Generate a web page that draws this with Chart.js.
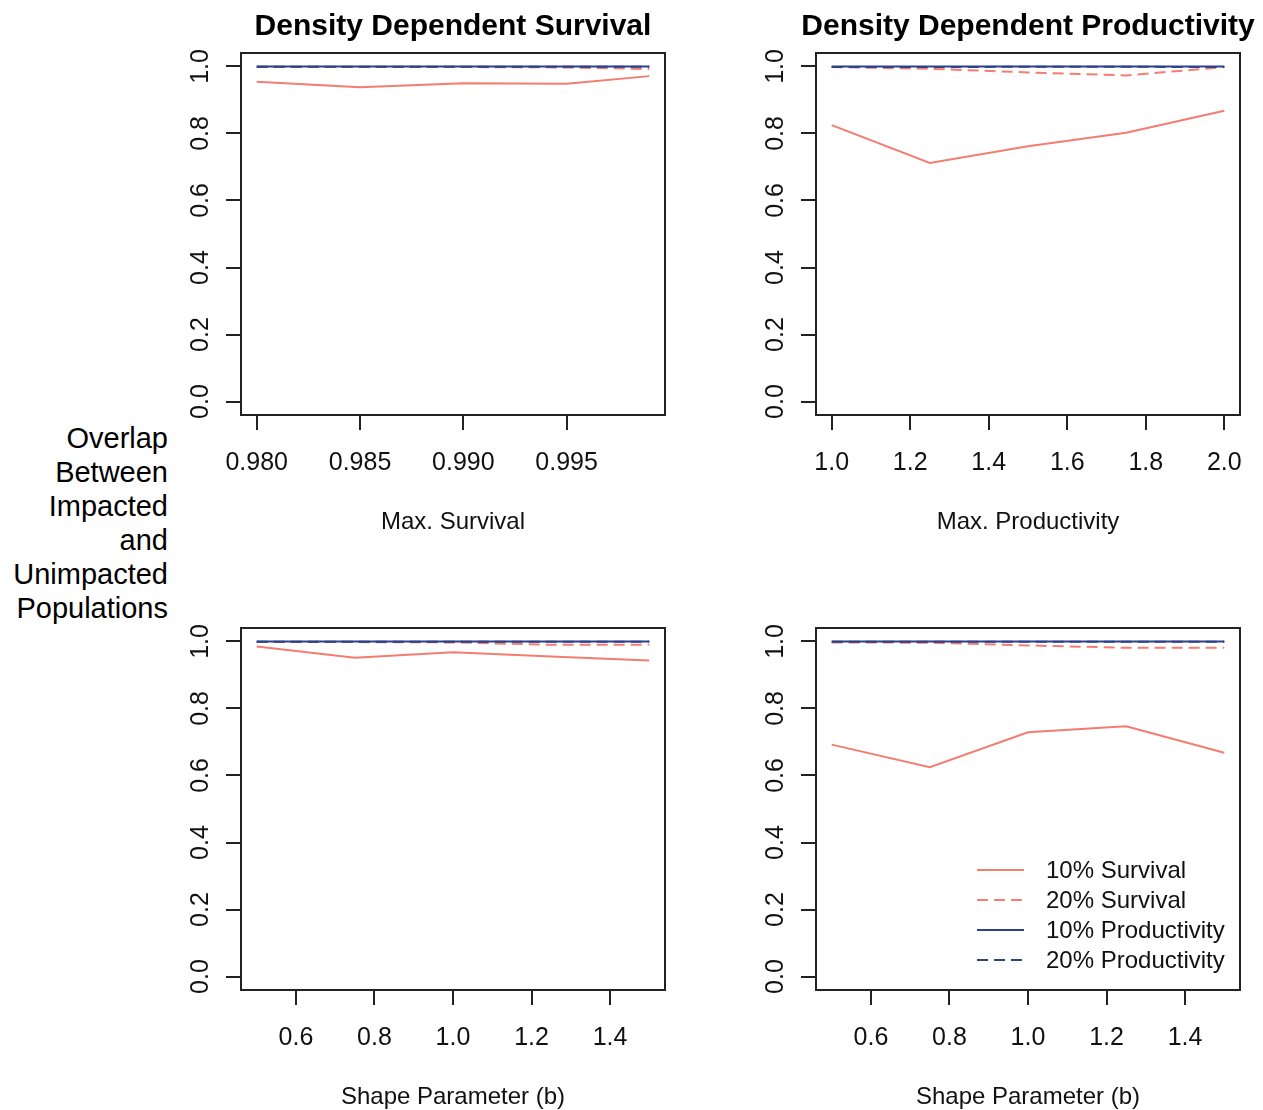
<!DOCTYPE html>
<html>
<head>
<meta charset="utf-8">
<script src="https://cdn.jsdelivr.net/npm/chart.js@4.4.1/dist/chart.umd.min.js"></script>
<style>
  html, body { margin: 0; padding: 0; background: #fff; overflow: hidden; }
  body { width: 1263px; height: 1110px; position: relative; font-family: "Liberation Sans", Arial, sans-serif; }
  canvas { position: absolute; }
  #c1 { left: 175px; top: 0; }
  #c2 { left: 750px; top: 0; }
  #c3 { left: 175px; top: 575px; }
  #c4 { left: 750px; top: 575px; }
  #ylab { position: absolute; left: 0; top: 421px; width: 168px; text-align: right;
          font-size: 29px; line-height: 34px; color: #000; }
</style>
</head>
<body>
<div id="ylab">Overlap<br>Between<br>Impacted<br>and<br>Unimpacted<br>Populations</div>
<canvas id="c1" width="556" height="545"></canvas>
<canvas id="c2" width="556" height="545"></canvas>
<canvas id="c3" width="556" height="539"></canvas>
<canvas id="c4" width="556" height="539"></canvas>
<script>
// x values for each panel
const maxSurvX = [0.980, 0.985, 0.990, 0.995, 0.999];
const maxProdX = [1.0, 1.25, 1.5, 1.75, 2.0];
const shapeX = [0.5, 0.75, 1.0, 1.25, 1.5];

// tick labels
const maxSurvTicks = [0.980, 0.985, 0.990, 0.995];
const maxSurvLabels = ['0.980', '0.985', '0.990', '0.995'];
const maxProdTicks = [1.0, 1.2, 1.4, 1.6, 1.8, 2.0];
const maxProdLabels = ['1.0', '1.2', '1.4', '1.6', '1.8', '2.0'];
const shapeTicks = [0.6, 0.8, 1.0, 1.2, 1.4];
const shapeLabels = ['0.6', '0.8', '1.0', '1.2', '1.4'];
const yTicks = [0, 0.2, 0.4, 0.6, 0.8, 1.0];
const yLabels = ['0.0', '0.2', '0.4', '0.6', '0.8', '1.0'];

const seriesNames = ['10% Survival', '20% Survival', '10% Productivity', '20% Productivity'];

// Density dependent survival, vs max survival
const dsMax_s10 = [0.954, 0.938, 0.950, 0.948, 0.971];
const dsMax_s20 = [0.998, 0.998, 0.998, 0.997, 0.992];
const dsMax_p10 = [1.0, 1.0, 1.0, 1.0, 1.0];
const dsMax_p20 = [0.999, 0.999, 0.999, 0.999, 0.999];

// Density dependent productivity, vs max productivity
const dpMax_s10 = [0.825, 0.712, 0.762, 0.802, 0.868];
const dpMax_s20 = [0.998, 0.993, 0.982, 0.973, 0.998];
const dpMax_p10 = [1.0, 1.0, 1.0, 1.0, 1.0];
const dpMax_p20 = [0.998, 0.998, 0.999, 0.999, 0.998];

// Density dependent survival, vs shape parameter
const dsShape_s10 = [0.985, 0.951, 0.968, 0.955, 0.943];
const dsShape_s20 = [0.998, 0.998, 0.997, 0.990, 0.990];
const dsShape_p10 = [1.0, 1.0, 1.0, 1.0, 1.0];
const dsShape_p20 = [0.999, 0.999, 0.999, 0.999, 0.999];

// Density dependent productivity, vs shape parameter
const dpShape_s10 = [0.692, 0.625, 0.729, 0.747, 0.668];
const dpShape_s20 = [0.997, 0.996, 0.988, 0.981, 0.981];
const dpShape_p10 = [1.0, 1.0, 1.0, 1.0, 1.0];
const dpShape_p20 = [0.999, 0.999, 0.999, 0.999, 0.999];

const RED = '#F47C70';
const BLUE = '#2E428C';
const DASH = [11, 6];

Chart.defaults.font.family = '"Liberation Sans", Arial, sans-serif';
Chart.defaults.color = '#000';

// R style box around the plot region
const framePlugin = {
  id: 'frame',
  afterDraw(chart) {
    const a = chart.chartArea, ctx = chart.ctx;
    ctx.save();
    ctx.strokeStyle = '#222';
    ctx.lineWidth = 2;
    ctx.strokeRect(a.left, a.top, a.right - a.left, a.bottom - a.top);
    ctx.restore();
  }
};

// legend without a box, bottom right inside the plot
const boxlessLegend = {
  id: 'boxlessLegend',
  afterDraw(chart, args, opts) {
    if (!opts.show) return;
    const a = chart.chartArea, ctx = chart.ctx;
    ctx.save();
    ctx.font = '24px "Liberation Sans", Arial, sans-serif';
    ctx.textBaseline = 'middle';
    ctx.textAlign = 'left';
    chart.data.datasets.forEach((ds, i) => {
      const y = a.bottom - 120 + i * 30;
      ctx.strokeStyle = ds.borderColor;
      ctx.lineWidth = 2;
      ctx.setLineDash(ds.borderDash || []);
      ctx.beginPath();
      ctx.moveTo(a.right - 263, y);
      ctx.lineTo(a.right - 216, y);
      ctx.stroke();
      ctx.setLineDash([]);
      ctx.fillStyle = '#111';
      ctx.fillText(ds.label, a.right - 194, y + 1);
    });
    ctx.restore();
  }
};

function pad(xs) {
  const lo = Math.min(...xs), hi = Math.max(...xs), d = (hi - lo) * 0.04;
  return [lo - d, hi + d];
}

function makePanel(id, xs, series, xTicks, xLabels, title, xTitle, topRow, legend) {
  const styles = [
    { c: RED, dash: [] }, { c: RED, dash: DASH },
    { c: BLUE, dash: [] }, { c: BLUE, dash: DASH }
  ];
  const [xmin, xmax] = pad(xs);
  new Chart(document.getElementById(id), {
    type: 'line',
    data: {
      datasets: series.map((vals, i) => ({
        label: seriesNames[i],
        data: xs.map((x, j) => ({ x: x, y: vals[j] })),
        borderColor: styles[i].c,
        borderDash: styles[i].dash,
        borderWidth: 2,
        pointRadius: 0,
        tension: 0,
        fill: false,
        order: 3 - i
      }))
    },
    options: {
      responsive: false,
      animation: false,
      events: [],
      layout: { padding: { left: 0, right: 0, top: topRow ? 0 : 53, bottom: 0 } },
      plugins: {
        legend: { display: false },
        tooltip: { enabled: false },
        title: {
          display: !!title,
          text: title || '',
          font: { size: 30, weight: 'bold' },
          color: '#000',
          padding: { top: 9, bottom: 8 }
        },
        boxlessLegend: { show: legend }
      },
      scales: {
        x: {
          type: 'linear',
          position: 'bottom',
          min: xmin,
          max: xmax,
          bounds: 'data',
          afterBuildTicks: (axis) => { axis.ticks = xTicks.map(v => ({ value: v })); },
          afterFit: (axis) => { axis.height = topRow ? 130 : 124; },
          ticks: {
            autoSkip: false,
            maxRotation: 0,
            padding: 18,
            font: { size: 25 },
            color: '#111',
            callback: (v, i) => xLabels[i]
          },
          grid: { display: true, drawOnChartArea: false, drawTicks: true, tickLength: 15, color: '#222', lineWidth: 2 },
          border: { display: false },
          title: {
            display: true,
            text: xTitle,
            font: { size: 24 },
            color: '#111',
            padding: { top: 0, bottom: topRow ? 8.6 : 2.6 }
          }
        },
        y: {
          type: 'linear',
          min: -0.04,
          max: 1.04,
          bounds: 'data',
          afterBuildTicks: (axis) => { axis.ticks = yTicks.map(v => ({ value: v })); },
          afterFit: (axis) => { axis.width = 66; },
          ticks: {
            autoSkip: false,
            minRotation: 90,
            maxRotation: 90,
            crossAlign: 'center',
            padding: 8,
            font: { size: 25 },
            color: '#111',
            callback: (v, i) => yLabels[i]
          },
          grid: { display: true, drawOnChartArea: false, drawTicks: true, tickLength: 15, color: '#222', lineWidth: 2 },
          border: { display: false }
        },
        // empty right margin so the title centres over the plot box
        yRight: {
          type: 'linear',
          position: 'right',
          display: true,
          afterFit: (axis) => { axis.width = 66; },
          ticks: { display: false },
          grid: { display: false },
          border: { display: false }
        }
      }
    },
    plugins: [framePlugin, boxlessLegend]
  });
}

makePanel('c1', maxSurvX, [dsMax_s10, dsMax_s20, dsMax_p10, dsMax_p20],
  maxSurvTicks, maxSurvLabels, 'Density Dependent Survival', 'Max. Survival', true, false);
makePanel('c2', maxProdX, [dpMax_s10, dpMax_s20, dpMax_p10, dpMax_p20],
  maxProdTicks, maxProdLabels, 'Density Dependent Productivity', 'Max. Productivity', true, false);
makePanel('c3', shapeX, [dsShape_s10, dsShape_s20, dsShape_p10, dsShape_p20],
  shapeTicks, shapeLabels, null, 'Shape Parameter (b)', false, false);
makePanel('c4', shapeX, [dpShape_s10, dpShape_s20, dpShape_p10, dpShape_p20],
  shapeTicks, shapeLabels, null, 'Shape Parameter (b)', false, true);
</script>
</body>
</html>
